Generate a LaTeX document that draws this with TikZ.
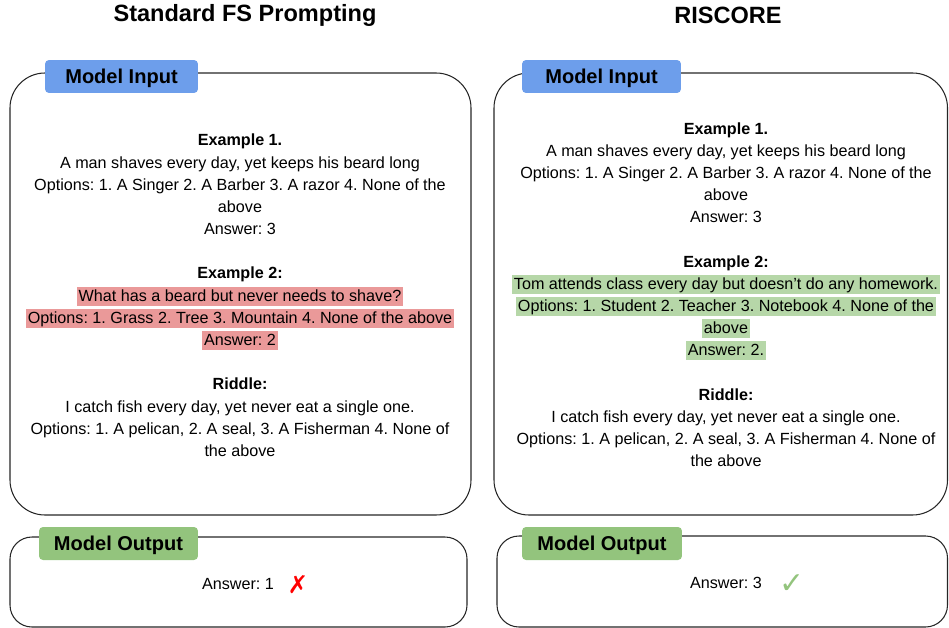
\documentclass[tikz,border=0pt]{standalone}
\usepackage{fontspec}
\setmainfont{Liberation Sans}
\newfontfamily\symbolfont{DejaVu Sans}
\usepackage{xcolor}
\usepackage{tikz}
\usetikzlibrary{positioning}
\definecolor{inputblue}{HTML}{6D9EEB}
\definecolor{outputgreen}{HTML}{93C47D}
\definecolor{hlred}{HTML}{EA9999}
\definecolor{hlgreen}{HTML}{B6D7A8}
\definecolor{crossred}{HTML}{FF0000}
\frenchspacing

\begin{document}
\begin{tikzpicture}[x=0.02cm,y=-0.02cm,
    panel/.style={draw=black!85,line width=0.6pt},
    labelbox/.style={fill=#1,rounded corners=0.08cm,inner sep=0pt,text height=8.2pt,text depth=0pt,font=\fontsize{11.4}{13}\selectfont\bfseries},
    txt/.style={inner xsep=1pt,inner ysep=0pt,text height=8.4pt,text depth=2.8pt,font=\fontsize{9.2}{11}\selectfont},
    hd/.style={txt,font=\fontsize{9.2}{11}\selectfont\bfseries},
    hl/.style={txt,fill=#1},
    heading/.style={font=\fontsize{13.4}{15}\selectfont\bfseries}]
    \useasboundingbox (0,0) rectangle (949,628);
    % headings
    \node[heading] (stdtitle) at (245,15) {Standard FS Prompting};
    \node[heading] (riscoretitle) at (728,15) {RISCORE};
    % frames
    \draw[panel,rounded corners=0.7cm] (10,73) rectangle (471,515);
    \draw[panel,rounded corners=0.7cm] (494,73) rectangle (947.5,515);
    \draw[panel,rounded corners=0.44cm] (10,537) rectangle (467,627);
    \draw[panel,rounded corners=0.44cm] (497,536) rectangle (947.5,627);
    \node[labelbox=inputblue,minimum width=3.06cm,minimum height=0.66cm] (inleft) at (121.5,76.5) {Model Input};
    \node[labelbox=inputblue,minimum width=3.18cm,minimum height=0.66cm] (inright) at (601.5,76.5) {Model Input};
    \node[labelbox=outputgreen,minimum width=3.18cm,minimum height=0.66cm] (outleft) at (118.5,543.5) {Model Output};
    \node[labelbox=outputgreen,minimum width=3.2cm,minimum height=0.66cm] (outright) at (602,543.5) {Model Output};
    % standard few-shot prompt
    \node[hd] (sex1) at (240,141) {Example 1.};
    \node[txt] (sq1) at (240,164) {A man shaves every day, yet keeps his beard long};
    \node[txt] (so1) at (240,186) {Options: 1. A Singer 2. A Barber 3. A razor 4. None of the};
    \node[txt] (so1b) at (240,208) {above};
    \node[txt] (sa1) at (240,230) {Answer: 3};
    \node[hd] (sex2) at (240,274) {Example 2:};
    \node[hl=hlred] (sq2) at (240,296.5) {What has a beard but never needs to shave?};
    \node[hl=hlred] (so2) at (240,318.5) {Options: 1. Grass 2. Tree 3. Mountain 4. None of the above};
    \node[hl=hlred] (sa2) at (240,340.5) {Answer: 2};
    \node[hd] (sriddle) at (240,385) {Riddle:};
    \node[txt] (sq3) at (240,408) {I catch fish every day, yet never eat a single one.};
    \node[txt] (so3) at (240,430) {Options: 1. A pelican, 2. A seal, 3. A Fisherman 4. None of};
    \node[txt] (so3b) at (240,452) {the above};
    % riscore prompt
    \node[hd] (rex1) at (726,130) {Example 1.};
    \node[txt] (rq1) at (726,152) {A man shaves every day, yet keeps his beard long};
    \node[txt] (ro1) at (726,174) {Options: 1. A Singer 2. A Barber 3. A razor 4. None of the};
    \node[txt] (ro1b) at (726,196) {above};
    \node[txt] (ra1) at (726,218) {Answer: 3};
    \node[hd] (rex2) at (726,263) {Example 2:};
    \node[hl=hlgreen] (rq2) at (726,284.5) {Tom attends class every day but doesn’t do any homework.};
    \node[hl=hlgreen] (ro2) at (726,306.5) {Options: 1. Student 2. Teacher 3. Notebook 4. None of the};
    \node[hl=hlgreen] (ro2b) at (726,328.5) {above};
    \node[hl=hlgreen] (ra2) at (726,350.5) {Answer: 2.};
    \node[hd] (rriddle) at (726,396) {Riddle:};
    \node[txt] (rq3) at (726,418) {I catch fish every day, yet never eat a single one.};
    \node[txt] (ro3) at (726,440) {Options: 1. A pelican, 2. A seal, 3. A Fisherman 4. None of};
    \node[txt] (ro3b) at (726,462) {the above};
    % outputs
    \node[txt] (sout) at (238,585) {Answer: 1};
    \node[text=crossred,font=\symbolfont\fontsize{14}{16}\selectfont\bfseries,right=3pt of sout] (cross) {✗};
    \node[txt] (rout) at (726,584) {Answer: 3};
    \node[text=outputgreen,font=\symbolfont\fontsize{17}{19}\selectfont,right=5pt of rout] (tick) {✓};
\end{tikzpicture}
\end{document}
